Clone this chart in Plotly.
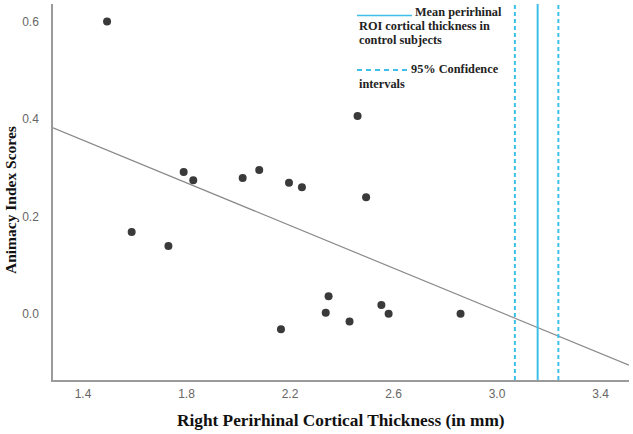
import plotly.graph_objects as go

# Data
thickness = [1.493, 1.588, 1.730, 1.789, 1.826, 2.017, 2.081, 2.165, 2.196, 2.246,
             2.338, 2.349, 2.430, 2.461, 2.494, 2.553, 2.581, 2.859]
animacy = [0.600, 0.168, 0.139, 0.291, 0.274, 0.279, 0.295, -0.032, 0.269, 0.260,
           0.002, 0.036, -0.016, 0.406, 0.239, 0.018, 0.000, 0.000]
fit_intercept = 0.663
fit_slope = -0.219
control_mean = 3.157
control_ci = [3.069, 3.237]
x_ticks = [1.4, 1.8, 2.2, 2.6, 3.0, 3.4]
y_ticks = [0.0, 0.2, 0.4, 0.6]
x_range = [1.284, 3.51]
y_range = [-0.136, 0.636]

BLUE = "#3dbfe8"
SERIF = "Liberation Serif"

fig = go.Figure()
fit_x = x_range
fit_y = [fit_intercept + fit_slope * v for v in fit_x]
fig.add_trace(go.Scatter(x=fit_x, y=fit_y, mode="lines",
                         line=dict(color="#8a8a8a", width=1.2), hoverinfo="skip"))
fig.add_trace(go.Scatter(x=thickness, y=animacy, mode="markers",
                         marker=dict(color="#3a3a3a", size=8)))

fig.add_vline(x=control_mean, line=dict(color=BLUE, width=2))
for c in control_ci:
    fig.add_vline(x=c, line=dict(color=BLUE, width=2, dash="4px,3px"))

L, R, T, B = 53, 629, 4, 380
W, H = R - L, B - T
def px(x):
    return (x - L) / W
def py(y):
    return (B - y) / H

# legend samples
fig.add_shape(type="line", xref="paper", yref="paper", x0=px(357), x1=px(412),
              y0=py(15.5), y1=py(15.5), line=dict(color=BLUE, width=1.5))
fig.add_shape(type="line", xref="paper", yref="paper", x0=px(357), x1=px(408),
              y0=py(70), y1=py(70), line=dict(color=BLUE, width=2, dash="5px,4px"))

legend_text = [
    ("Mean perirhinal", 413, 12),
    ("ROI cortical thickness in", 357, 26),
    ("control subjects", 357, 40),
    ("95% Confidence", 409, 69),
    ("intervals", 357, 84),
]
for txt, x0, y0 in legend_text:
    fig.add_annotation(text="<b>%s</b>" % txt, xref="paper", yref="paper",
                       x=px(x0), y=py(y0), xanchor="left", yanchor="middle",
                       showarrow=False, font=dict(family=SERIF, size=12.3, color="#222"))

fig.add_annotation(text="<b>Right Perirhinal Cortical Thickness (in mm)</b>",
                   xref="paper", yref="paper", x=px(341), y=py(420),
                   xanchor="center", yanchor="middle", showarrow=False,
                   font=dict(family=SERIF, size=17.3, color="#111"))
fig.add_annotation(text="<b>Animacy Index Scores</b>", textangle=-90,
                   xref="paper", yref="paper", x=px(11), y=py(200),
                   xanchor="center", yanchor="middle", showarrow=False,
                   font=dict(family=SERIF, size=15.5, color="#111"))

fig.update_layout(
    width=633, height=434,
    margin=dict(l=L, r=633 - R, t=T, b=434 - B),
    paper_bgcolor="white", plot_bgcolor="white",
    showlegend=False,
    xaxis=dict(range=x_range, tickvals=x_ticks, ticktext=["%.1f" % v for v in x_ticks],
               showgrid=False, zeroline=False, showline=True, linecolor="#9a9a9a",
               linewidth=1.5, ticks="", tickfont=dict(family="Liberation Sans", size=12, color="#666"),
               ticklabelstandoff=2),
    yaxis=dict(range=y_range, tickvals=y_ticks, ticktext=["%.1f" % v for v in y_ticks],
               showgrid=False, zeroline=False, showline=True, linecolor="#9a9a9a",
               linewidth=1.5, ticks="", tickfont=dict(family="Liberation Sans", size=12, color="#666"),
               ticklabelstandoff=10),
)

fig.write_html("out.html", config={"displayModeBar": False},
               post_script="document.body.style.margin='0';document.body.style.overflow='hidden';")
